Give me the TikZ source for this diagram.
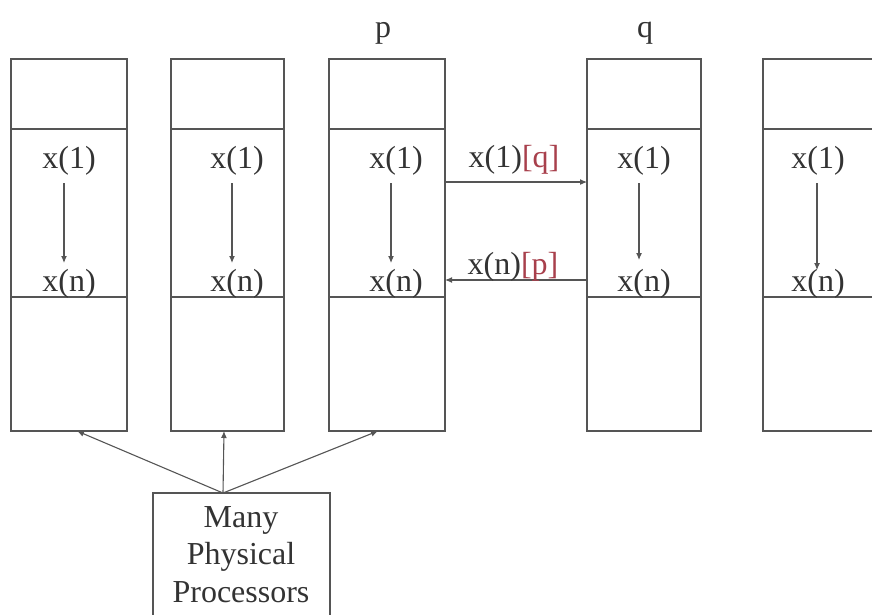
\documentclass[tikz,border=0pt]{standalone}
\usepackage{fontspec}
\setmainfont{Liberation Serif}
\usetikzlibrary{arrows.meta}
\definecolor{ln}{HTML}{555555}
\definecolor{tx}{HTML}{333333}
\definecolor{rd}{HTML}{A8404C}
\tikzset{
  cell/.style={draw=ln, line width=1.3pt, inner sep=0pt, outer sep=0pt},
  lbl/.style={text=tx, font=\fontsize{32}{38}\selectfont, inner sep=0pt},
  arr/.style={draw=ln, line width=1.1pt, -{Latex[length=7pt,width=6pt]}},
}
\begin{document}
\begin{tikzpicture}[x=1pt,y=-1pt]
\useasboundingbox (0,0) rectangle (872,614);
% columns: centers and widths
\foreach \n/\cx/\w in {1/69/116, 2/227.5/113, 3/387/116, 4/644/114, 5/821.5/117}{
  \node[cell, minimum width=\w pt, minimum height=70pt] (c\n t) at (\cx,94) {};
  \node[cell, minimum width=\w pt, minimum height=168pt] (c\n m) at (\cx,213) {};
  \node[cell, minimum width=\w pt, minimum height=134pt] (c\n b) at (\cx,364) {};
}
% labels x(1), x(n)
\foreach \n/\tx in {1/69, 2/237, 3/396, 4/644, 5/818}{
  \node[lbl] (a\n) at (\tx,161) {x(1)};
  \node[lbl] (b\n) at (\tx,284) {x(n)};
}
% vertical arrows
\coordinate (s1) at (64,183);  \coordinate (e1) at (64,263);
\coordinate (s2) at (232,183); \coordinate (e2) at (232,263);
\coordinate (s3) at (391,183); \coordinate (e3) at (391,263);
\coordinate (s4) at (639,183); \coordinate (e4) at (639,260);
\coordinate (s5) at (817,183); \coordinate (e5) at (817,270);
\foreach \n in {1,...,5}{ \draw[arr] (s\n) -- (e\n); }
% processor names
\node[lbl] (p) at (383,33) {p};
\node[lbl] (q) at (645,33) {q};
% communication arrows
\draw[arr] (c3m.east |- 0,182) -- (c4m.west |- 0,182);
\draw[arr] (c4m.west |- 0,280) -- (c3m.east |- 0,280);
\node[lbl] (m1) at (514,160) {x(1)\textcolor{rd}{[q]}};
\node[lbl] (m2) at (513,267) {x(n)\textcolor{rd}{[p]}};
% physical processors box
\node[cell, minimum width=177pt, minimum height=140pt] (pp) at (241.5,563) {};
\node[lbl, align=center, anchor=base, font=\fontsize{32}{37.5}\selectfont] (ppt) at (241,602) {Many\\Physical\\Processors};
\coordinate (top) at (223,493);
\draw[arr] (top) -- (c1b.south -| 77,0);
\draw[arr] (top) -- (c2b.south -| 224,0);
\draw[arr] (top) -- (c3b.south -| 378,0);
\end{tikzpicture}
\end{document}
